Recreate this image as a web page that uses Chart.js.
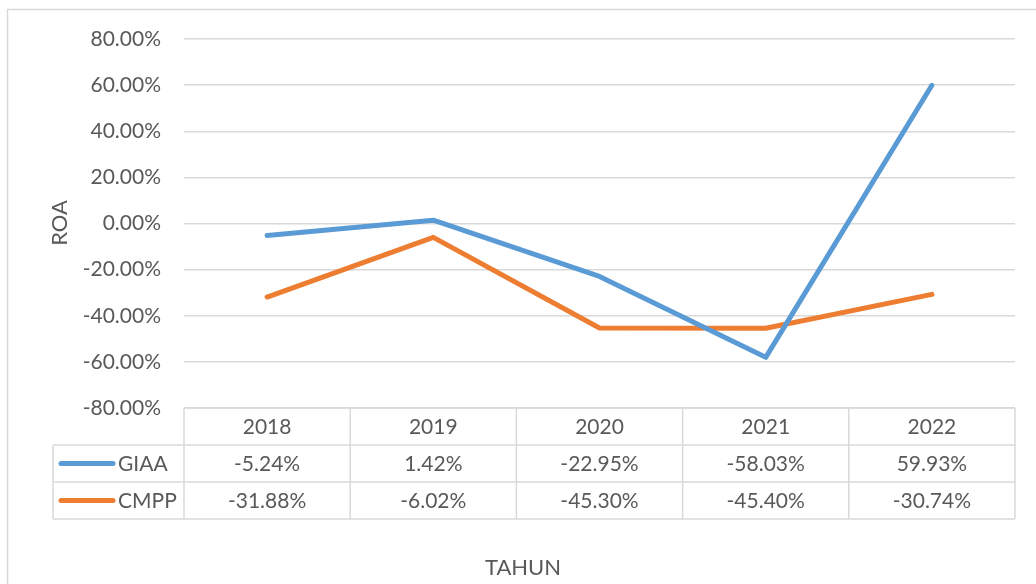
<!DOCTYPE html>
<html>
<head>
<meta charset="utf-8">
<script src="https://cdn.jsdelivr.net/npm/chart.js@4"></script>
<style>
  html, body { margin: 0; padding: 0; background: #fff; }
  #wrap { width: 1036px; height: 584px; position: relative; }
</style>
</head>
<body>
<div id="wrap"><canvas id="chart"></canvas></div>
<script>
/* =============== Data =============== */
const years = ["2018", "2019", "2020", "2021", "2022"];
const giaa = [-5.24, 1.42, -22.95, -58.03, 59.93];
const cmpp = [-31.88, -6.02, -45.30, -45.40, -30.74];
const yTicks = [-80, -60, -40, -20, 0, 20, 40, 60, 80];

const FONT = "Lato, 'Open Sans', sans-serif";
const TEXT = "#595959";
const GRID = "#d9d9d9";
const BLUE = "#5b9bd5";
const ORANGE = "#ed7d31";

const fmt = (v) => v.toFixed(2) + "%";

/* =============== Frame, titles and data table =============== */
const extras = {
  id: "extras",
  afterDraw(chart) {
    const { ctx, chartArea: a, scales: { x } } = chart;
    const rowH = 37;
    const top = a.bottom;
    const labelLeft = 53;
    const series = [
      { name: "GIAA", color: BLUE, values: giaa },
      { name: "CMPP", color: ORANGE, values: cmpp }
    ];

    ctx.save();
    ctx.strokeStyle = GRID;
    ctx.lineWidth = 1.5;

    // outer chart border (runs off right / bottom)
    ctx.strokeRect(7.5, 9.5, 1100, 700);

    // table lines
    ctx.beginPath();
    ctx.moveTo(a.left, top); ctx.lineTo(a.right, top);
    for (let r = 1; r <= 3; r++) {
      ctx.moveTo(labelLeft, top + r * rowH); ctx.lineTo(a.right, top + r * rowH);
    }
    const colW = (a.right - a.left) / years.length;
    for (let c = 0; c <= years.length; c++) {
      const xx = a.left + c * colW;
      ctx.moveTo(xx, top); ctx.lineTo(xx, top + 3 * rowH);
    }
    ctx.moveTo(labelLeft, top + rowH); ctx.lineTo(labelLeft, top + 3 * rowH);
    ctx.stroke();

    ctx.font = "21px " + FONT;
    ctx.fillStyle = TEXT;
    ctx.textAlign = "center";
    ctx.textBaseline = "middle";

    years.forEach((y, i) => {
      ctx.fillText(y, x.getPixelForValue(i), top + rowH / 2 + 1);
    });

    series.forEach((s, r) => {
      const cy = top + rowH * (r + 1) + rowH / 2 + 1;
      s.values.forEach((v, i) => {
        ctx.fillText(fmt(v), x.getPixelForValue(i), cy);
      });
      // legend key
      ctx.strokeStyle = s.color;
      ctx.lineWidth = 5;
      ctx.lineCap = "round";
      ctx.beginPath();
      ctx.moveTo(61, cy - 1); ctx.lineTo(113, cy - 1);
      ctx.stroke();
      ctx.textAlign = "left";
      ctx.fillText(s.name, 118, cy);
      ctx.textAlign = "center";
    });

    // axis titles
    ctx.font = "22px " + FONT;
    ctx.fillText("TAHUN", 523, 568);
    ctx.translate(60, 223);
    ctx.rotate(-Math.PI / 2);
    ctx.fillText("ROA", 0, 0);
    ctx.restore();
  }
};

/* =============== Chart =============== */
new Chart(document.getElementById("chart"), {
  type: "line",
  data: {
    labels: years,
    datasets: [
      { label: "GIAA", data: giaa, borderColor: BLUE, backgroundColor: BLUE },
      { label: "CMPP", data: cmpp, borderColor: ORANGE, backgroundColor: ORANGE }
    ]
  },
  options: {
    responsive: true,
    maintainAspectRatio: false,
    animation: false,
    layout: { padding: { left: 0, top: 39, right: 21, bottom: 176 } },
    elements: {
      line: { borderWidth: 5, tension: 0, borderCapStyle: "round", borderJoinStyle: "round" },
      point: { radius: 0, hoverRadius: 0 }
    },
    plugins: { legend: { display: false }, tooltip: { enabled: false } },
    scales: {
      x: { display: false, offset: true },
      y: {
        min: -80,
        max: 80,
        afterFit(scale) { scale.width = 184; },
        afterBuildTicks(scale) { scale.ticks = yTicks.map(v => ({ value: v })); },
        border: { display: false },
        grid: { color: GRID, lineWidth: 1.5, drawTicks: false },
        ticks: {
          padding: 23,
          color: TEXT,
          font: { family: FONT, size: 21 },
          callback: (v) => fmt(v)
        }
      }
    }
  },
  plugins: [extras]
});
</script>
</body>
</html>
